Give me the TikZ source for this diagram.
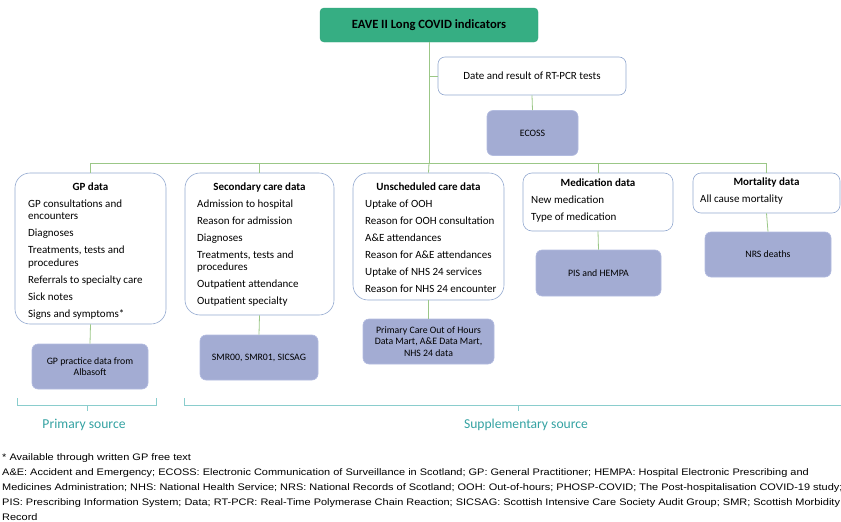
\documentclass[tikz,border=0pt]{standalone}
\usepackage{fontspec}
\setmainfont{Carlito}
\newfontfamily\arialf{Liberation Sans}
\definecolor{titlegreen}{HTML}{36AE83}
\definecolor{titleborder}{HTML}{2FA27A}
\definecolor{conn}{HTML}{9BC787}
\definecolor{boxborder}{HTML}{93A9D0}
\definecolor{srcfill}{HTML}{A3ACD3}
\definecolor{srcborder}{HTML}{B3BCE0}
\definecolor{bracecol}{HTML}{8ACDCD}
\definecolor{bracetext}{HTML}{34A2A2}
\newcommand{\itemlines}[1]{\begin{tabular}[t]{@{}l@{}}#1\end{tabular}}
\tikzset{
  titlebox/.style={draw=titleborder, fill=titlegreen, rounded corners=4pt, minimum width=218pt, minimum height=34pt, inner sep=0pt, font=\fontsize{12.6}{14}\selectfont\bfseries, text=black},
  infobox/.style={draw=boxborder, fill=white, line width=0.6pt, inner sep=0pt},
  srcbox/.style={draw=srcborder, fill=srcfill, line width=0.6pt, rounded corners=6pt, inner sep=0pt, align=center, font=\fontsize{9.8}{11.3}\selectfont},
  boxtitle/.style={anchor=base, inner sep=0pt, font=\fontsize{11}{12.5}\selectfont\bfseries},
  boxbody/.style={anchor=base west, inner sep=0pt, font=\fontsize{11}{12.5}\selectfont},
  link/.style={draw=conn, line width=0.8pt},
  bracepath/.style={draw=bracecol, line width=0.6pt},
  bracelabel/.style={text=bracetext, inner sep=0pt, font=\fontsize{13.6}{15}\selectfont},
  notes/.style={anchor=base west, inner sep=0pt, font=\arialf\fontsize{9.5}{15}\selectfont}
}
\begin{document}
\begin{tikzpicture}[x=1pt, y=-1pt]
\useasboundingbox (0,0) rectangle (841,522);

% title and RT-PCR branch
\node[titlebox] (title) at (429,25) {EAVE II Long COVID indicators};
\node[infobox, rounded corners=7pt, minimum width=188pt, minimum height=38pt, font=\fontsize{11}{12.5}\selectfont] (rt) at (532,76) {Date and result of RT-PCR tests};
\node[srcbox, minimum width=91pt, minimum height=45pt] (ecoss) at (532.5,133) {ECOSS};

% category boxes
\node[infobox, rounded corners=15pt, minimum width=151pt, minimum height=151pt] (gp) at (90.5,248.5) {};
\node[infobox, rounded corners=15pt, minimum width=149pt, minimum height=142pt] (sec) at (259.5,244) {};
\node[infobox, rounded corners=15pt, minimum width=151pt, minimum height=127pt] (uns) at (428.5,236.5) {};
\node[infobox, rounded corners=9pt, minimum width=150pt, minimum height=58pt] (med) at (598,202) {};
\node[infobox, rounded corners=8pt, minimum width=147pt, minimum height=40pt] (mort) at (766.5,193) {};

% titles
\node[boxtitle] (gpt) at (90.5,190.5) {GP data};
\node[boxtitle] (sect) at (259.5,190.5) {Secondary care data};
\node[boxtitle] (unst) at (428.5,190) {Unscheduled care data};
\node[boxtitle] (medt) at (598,186) {Medication data};
\node[boxtitle] (mortt) at (766.5,185) {Mortality data};

% bodies
\node[boxbody] (gpb) at (28,207) {\itemlines{GP consultations and\\encounters\\[4.5pt]Diagnoses\\[4.5pt]Treatments, tests and\\procedures\\[4.5pt]Referrals to specialty care\\[4.5pt]Sick notes\\[4.5pt]Signs and symptoms*}};
\node[boxbody] (secb) at (197,207) {\itemlines{Admission to hospital\\[4.5pt]Reason for admission\\[4.5pt]Diagnoses\\[4.5pt]Treatments, tests and\\procedures\\[4.5pt]Outpatient attendance\\[4.5pt]Outpatient specialty}};
\node[boxbody] (unsb) at (365,207) {\itemlines{Uptake of OOH\\[4.5pt]Reason for OOH consultation\\[4.5pt]A\&E attendances\\[4.5pt]Reason for A\&E attendances\\[4.5pt]Uptake of NHS 24 services\\[4.5pt]Reason for NHS 24 encounter}};
\node[boxbody] (medb) at (531,203) {\itemlines{New medication\\[4.5pt]Type of medication}};
\node[boxbody] (mortb) at (700,202) {All cause mortality};

% source boxes
\node[srcbox, minimum width=116pt, minimum height=45pt] (gpsrc) at (90,366.5) {GP practice data from\\Albasoft};
\node[srcbox, minimum width=118pt, minimum height=45pt] (secsrc) at (259,357.5) {SMR00, SMR01, SICSAG};
\node[srcbox, minimum width=131pt, minimum height=45pt] (unssrc) at (428.5,341.5) {Primary Care Out of Hours\\Data Mart, A\&E Data Mart,\\NHS 24 data};
\node[srcbox, minimum width=125pt, minimum height=46pt] (medsrc) at (598.5,273) {PIS and HEMPA};
\node[srcbox, minimum width=126pt, minimum height=45pt] (mortsrc) at (768,254.5) {NRS deaths};

% connectors
\coordinate (bus) at (429,163);
\coordinate (rtj) at (429,76);
\path[link] (title.south) -- (bus);
\path[link] (rtj) -- (rt.west);
\path[link] (rt.south) -- (ecoss.north);
\path[link] (gp.north) |- (bus);
\path[link] (sec.north) |- (bus);
\path[link] (bus) -- (uns.north);
\path[link] (med.north) |- (bus);
\path[link] (mort.north) |- (bus);
\path[link] (gp.south) -- (gpsrc.north);
\path[link] (sec.south) -- (secsrc.north);
\path[link] (uns.south) -- (unssrc.north);
\path[link] (med.south) -- (medsrc.north);
\path[link] (mort.south) -- (mortsrc.north);

% braces
\path[bracepath] (17,398) -- (17,405) -- (156,405) -- (156,398);
\path[bracepath] (87,405) -- (87,411);
\path[bracepath] (184,398) -- (184,405) -- (845,405);
\path[bracepath] (518,405) -- (518,411);
\node[bracelabel] (prim) at (84,425) {Primary source};
\node[bracelabel] (supp) at (526,425) {Supplementary source};

% footnote
\node[notes] (fn) at (2,460) {\scalebox{1.155}[1]{\itemlines{* Available through written GP free text\\
A\&E: Accident and Emergency; ECOSS: Electronic Communication of Surveillance in Scotland; GP: General Practitioner; HEMPA: Hospital Electronic Prescribing and\\
Medicines Administration; NHS: National Health Service; NRS: National Records of Scotland; OOH: Out-of-hours; PHOSP-COVID; The Post-hospitalisation COVID-19 study;\\
PIS: Prescribing Information System; Data; RT-PCR: Real-Time Polymerase Chain Reaction; SICSAG: Scottish Intensive Care Society Audit Group; SMR; Scottish Morbidity\\
Record}}};
\end{tikzpicture}
\end{document}
